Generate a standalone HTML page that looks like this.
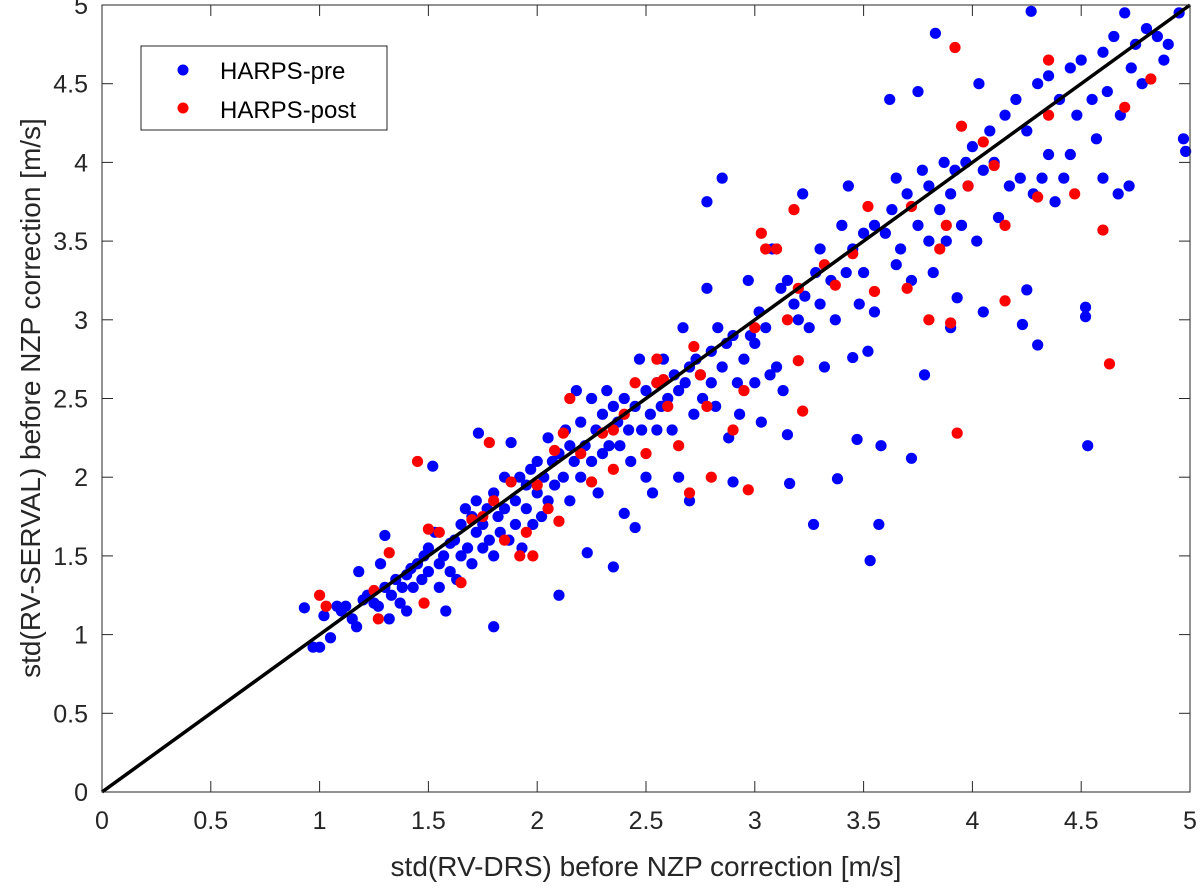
<!DOCTYPE html>
<html><head><meta charset="utf-8"><style>
body{margin:0;background:#fff}
svg text{font-family:"Liberation Sans",sans-serif;fill:#262626}
</style></head><body>
<svg id="chart" width="1200" height="890" xmlns="http://www.w3.org/2000/svg">
<rect x="0" y="0" width="1200" height="890" fill="#fff"/>
<g id="axes"></g>
<g id="pts"></g>
<line id="ref" stroke="#000" stroke-width="3.5"/>
<rect x="102" y="5" width="1088" height="787" fill="none" stroke="#262626" stroke-width="1"/>
<text x="646" y="876" font-size="28" text-anchor="middle">std(RV-DRS) before NZP correction [m/s]</text>
<text transform="translate(40,398) rotate(-90)" font-size="28" text-anchor="middle">std(RV-SERVAL) before NZP correction [m/s]</text>
<g>
<rect x="141" y="46" width="246" height="84" fill="#fff" stroke="#262626" stroke-width="1"/>
<circle cx="183" cy="70" r="5.5" fill="#0000ff"/>
<text x="220" y="79" font-size="24" style="fill:#000">HARPS-pre</text>
<circle cx="183" cy="108" r="5.5" fill="#ff0000"/>
<text x="220" y="118" font-size="24" style="fill:#000">HARPS-post</text>
</g>
</svg>
<script>
const xTicks=[0,0.5,1,1.5,2,2.5,3,3.5,4,4.5,5];
const yTicks=[0,0.5,1,1.5,2,2.5,3,3.5,4,4.5,5];
const preX=[0.93,0.97,1.0,1.02,1.05,1.08,1.1,1.12,1.15,1.17,1.18,1.2,1.22,1.25,1.27,1.28,1.3,1.3,1.32,1.33,1.35,1.37,1.38,1.4,1.4,1.42,1.43,1.45,1.47,1.48,1.5,1.5,1.52,1.53,1.55,1.55,1.57,1.58,1.6,1.6,1.62,1.63,1.65,1.65,1.67,1.68,1.7,1.7,1.72,1.72,1.73,1.75,1.75,1.77,1.78,1.8,1.8,1.8,1.82,1.83,1.85,1.85,1.87,1.88,1.9,1.9,1.92,1.93,1.95,1.95,1.97,1.98,2.0,2.0,2.02,2.03,2.05,2.05,2.07,2.08,2.1,2.1,2.12,2.13,2.15,2.15,2.17,2.18,2.2,2.2,2.22,2.23,2.25,2.25,2.27,2.28,2.3,2.3,2.32,2.33,2.35,2.35,2.37,2.38,2.4,2.4,2.42,2.43,2.45,2.45,2.47,2.48,2.5,2.5,2.52,2.53,2.55,2.55,2.57,2.58,2.6,2.62,2.63,2.65,2.65,2.67,2.68,2.7,2.7,2.72,2.73,2.75,2.76,2.78,2.78,2.8,2.8,2.82,2.83,2.85,2.85,2.87,2.88,2.9,2.9,2.92,2.93,2.95,2.97,2.98,3.0,3.0,3.02,3.03,3.05,3.07,3.08,3.1,3.12,3.13,3.15,3.15,3.16,3.18,3.2,3.22,3.23,3.25,3.27,3.28,3.3,3.3,3.32,3.35,3.37,3.38,3.4,3.42,3.43,3.45,3.45,3.47,3.48,3.5,3.5,3.52,3.53,3.55,3.55,3.57,3.58,3.6,3.62,3.63,3.65,3.65,3.67,3.7,3.72,3.72,3.75,3.75,3.77,3.78,3.8,3.8,3.82,3.83,3.85,3.87,3.88,3.9,3.9,3.92,3.93,3.95,3.97,3.98,4.0,4.02,4.03,4.05,4.05,4.08,4.1,4.12,4.15,4.17,4.2,4.22,4.23,4.25,4.25,4.27,4.28,4.3,4.3,4.32,4.35,4.35,4.38,4.4,4.42,4.45,4.45,4.48,4.5,4.52,4.52,4.53,4.55,4.57,4.6,4.6,4.62,4.65,4.67,4.68,4.7,4.72,4.73,4.75,4.78,4.8,4.85,4.88,4.9,4.95,4.97,4.98];
const preY=[1.17,0.92,0.92,1.12,0.98,1.18,1.15,1.18,1.1,1.05,1.4,1.22,1.25,1.2,1.18,1.45,1.63,1.3,1.1,1.25,1.35,1.2,1.3,1.38,1.15,1.42,1.3,1.45,1.35,1.5,1.55,1.4,2.07,1.65,1.45,1.3,1.5,1.15,1.58,1.4,1.6,1.35,1.7,1.5,1.8,1.55,1.75,1.45,1.65,1.85,2.28,1.7,1.55,1.8,1.6,1.9,1.5,1.05,1.75,1.65,2.0,1.8,1.6,2.22,1.85,1.7,2.0,1.55,1.8,1.95,2.05,1.7,1.9,2.1,1.75,2.0,2.25,1.85,2.1,1.95,2.15,1.25,2.0,2.3,1.85,2.2,2.1,2.55,2.0,2.35,2.2,1.52,2.1,2.5,2.3,1.9,2.4,2.15,2.55,2.2,1.43,2.45,2.35,2.2,2.5,1.77,2.3,2.1,2.45,1.68,2.75,2.3,2.55,2.0,2.4,1.9,2.6,2.3,2.45,2.75,2.5,2.3,2.65,2.55,2.0,2.95,2.6,2.7,1.85,2.4,2.75,2.65,2.5,3.2,3.75,2.8,2.6,2.45,2.95,2.7,3.9,2.85,2.25,2.9,1.97,2.6,2.4,2.75,3.25,2.9,2.6,2.85,3.05,2.35,2.95,2.65,3.45,2.7,3.2,2.55,3.25,2.27,1.96,3.1,3.0,3.8,3.15,2.95,1.7,3.3,3.45,3.1,2.7,3.25,3.0,1.99,3.6,3.3,3.85,3.45,2.76,2.24,3.1,3.55,3.3,2.8,1.47,3.6,3.05,1.7,2.2,3.55,4.4,3.7,3.35,3.9,3.45,3.8,2.12,3.25,3.6,4.45,3.95,2.65,3.85,3.5,3.3,4.82,3.7,4.0,3.5,3.8,2.95,3.95,3.14,3.6,4.0,3.85,4.1,3.5,4.5,3.05,3.95,4.2,4.0,3.65,4.3,3.85,4.4,3.9,2.97,4.2,3.19,4.96,3.8,4.5,2.84,3.9,4.55,4.05,3.75,4.4,3.9,4.6,4.05,4.3,4.65,3.08,3.02,2.2,4.4,4.15,4.7,3.9,4.45,4.8,3.8,4.3,4.95,3.85,4.6,4.75,4.5,4.85,4.8,4.65,4.75,4.95,4.15,4.07];
const postX=[1.0,1.03,1.25,1.27,1.32,1.45,1.48,1.5,1.55,1.65,1.7,1.75,1.78,1.8,1.85,1.88,1.92,1.95,1.98,2.0,2.05,2.08,2.1,2.12,2.15,2.2,2.25,2.3,2.35,2.4,2.45,2.5,2.55,2.55,2.6,2.65,2.7,2.72,2.75,2.78,2.8,2.9,2.95,2.97,3.03,3.05,3.1,3.15,3.18,3.2,3.22,3.2,3.32,3.37,3.45,3.52,3.55,3.7,3.72,3.8,3.85,3.88,3.9,3.92,3.93,3.95,3.98,4.05,4.1,4.15,4.15,4.3,4.35,4.35,4.47,4.6,4.63,4.7,4.82,3.0,2.58,2.35];
const postY=[1.25,1.18,1.28,1.1,1.52,2.1,1.2,1.67,1.65,1.33,1.73,1.75,2.22,1.85,1.6,1.97,1.5,1.65,1.5,1.95,1.8,2.17,1.72,2.28,2.5,2.15,1.97,2.28,2.05,2.4,2.6,2.15,2.75,2.6,2.45,2.2,1.9,2.83,2.65,2.45,2.0,2.3,2.55,1.92,3.55,3.45,3.45,3.0,3.7,2.74,2.42,3.2,3.35,3.22,3.42,3.72,3.18,3.2,3.72,3.0,3.45,3.6,2.98,4.73,2.28,4.23,3.85,4.13,3.98,3.12,3.6,3.78,4.65,4.3,3.8,3.57,2.72,4.35,4.53,2.95,2.62,2.3];
const X0=102,X1=1190,Y0=792,Y1=5;
const sx=v=>X0+(v-0)/(5-0)*(X1-X0);
const sy=v=>Y0-(v-0)/(5-0)*(Y0-Y1);
const NS="http://www.w3.org/2000/svg";
const axes=document.getElementById('axes');
function mk(tag,attrs,parent){const e=document.createElementNS(NS,tag);for(const k in attrs)e.setAttribute(k,attrs[k]);parent.appendChild(e);return e;}
xTicks.forEach(t=>{
  const l=mk('line',{x1:sx(t),x2:sx(t),y1:Y0,y2:Y0-11,stroke:'#262626'},axes);
  
  
  const l2=mk('line',{x1:sx(t),x2:sx(t),y1:Y1,y2:Y1+11,stroke:'#262626'},axes);
  
  
  const tx=mk('text',{x:sx(t),y:829,'font-size':'25','text-anchor':'middle'},axes);
  tx.textContent=String(t);
  
  
});
yTicks.forEach(t=>{
  const l=mk('line',{x1:X0,x2:X0+11,y1:sy(t),y2:sy(t),stroke:'#262626'},axes);
  
  
  const l2=mk('line',{x1:X1,x2:X1-11,y1:sy(t),y2:sy(t),stroke:'#262626'},axes);
  
  
  const tx=mk('text',{x:88,y:sy(t)+9,'font-size':'25','text-anchor':'end'},axes);
  tx.textContent=String(t);
  
  
});
const pts=document.getElementById('pts');
preX.forEach((x,i)=>{
  const c=mk('circle',{cx:sx(x),cy:sy(preY[i]),r:5.6,fill:'#0000ff'},pts);
  
  
});
postX.forEach((x,i)=>{
  const c=mk('circle',{cx:sx(x),cy:sy(postY[i]),r:5.6,fill:'#ff0000'},pts);
  
  
});
const ref=document.getElementById('ref');
ref.setAttribute('x1',sx(0));ref.setAttribute('y1',sy(0));
ref.setAttribute('x2',sx(5));ref.setAttribute('y2',sy(5));
</script>
</body></html>
